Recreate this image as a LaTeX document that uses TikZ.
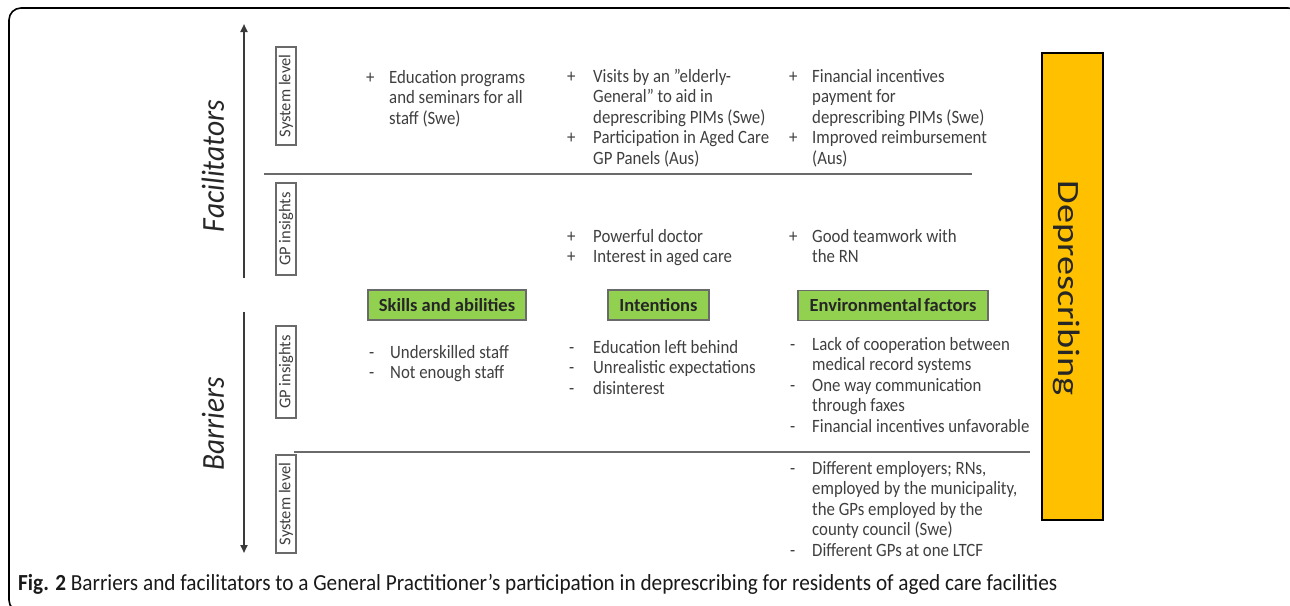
\documentclass[tikz,border=0pt]{standalone}
\usepackage{fontspec}
\setmainfont{Carlito}
\usetikzlibrary{arrows.meta}
\definecolor{txtgray}{HTML}{3F3F3F}
\definecolor{yel}{HTML}{FFC000}
\definecolor{grn}{HTML}{92D050}
\definecolor{linegray}{HTML}{6A6A6A}
\definecolor{arrgray}{HTML}{3A3A3A}
\newcommand\bodyfont{\fontsize{16.8}{20}\selectfont}
% #1 name, #2 bullet, #3 bullet x, #4 text x, #5 first baseline, #6 lines
\newcommand\bitem[6]{%
  \node[bul] (#1-b) at (#3,#5) {#2};
  \foreach \t [count=\i from 0] in {#6} {
    \node[txt] (#1-\i) at (#4,{#5+20.6*\i}) {\t};
  }%
}
\begin{document}
\begin{tikzpicture}[x=1pt,y=-1pt,
  txt/.style={anchor=base west,inner sep=0pt,font=\bodyfont,text=txtgray,yscale=1.12},
  bul/.style={anchor=base west,inner sep=0pt,font=\bodyfont,text=txtgray,yscale=1.12},
  sidebox/.style={draw=linegray,line width=1.1pt,fill=white,rotate=90,minimum height=20pt,inner sep=0pt,font=\fontsize{16.5}{17}\selectfont,text=txtgray},
  greenbox/.style={draw=linegray,line width=1.1pt,fill=grn,minimum height=30pt,inner sep=0pt,font=\fontsize{18.5}{19}\selectfont\bfseries,text=black!85},
  sep/.style={draw=linegray,line width=1.6pt},
  arrowline/.style={draw=arrgray,line width=2.2pt,-{Triangle[length=8pt,width=7pt]}},
  bigside/.style={inner sep=0pt,rotate=90,text=black!85}
]
\useasboundingbox (0,0) rectangle (1290,605);
% frame
\draw[line width=1.6pt,rounded corners=12pt] (9,8) rectangle (1300,612);

% axis arrows
\coordinate (fa0) at (244,278);
\coordinate (fa1) at (244,24);
\coordinate (ba0) at (244,312);
\coordinate (ba1) at (244,553);
\draw[arrowline] (fa0) -- (fa1);
\draw[arrowline] (ba0) -- (ba1);

\node[bigside] (fac) at (213,166) {\resizebox{132pt}{\height}{\fontsize{32}{32}\selectfont\itshape Facilitators}};
\node[bigside] (bar) at (213,424) {\resizebox{93pt}{\height}{\fontsize{32}{32}\selectfont\itshape Barriers}};

% separators
\coordinate (l1a) at (264,174);
\coordinate (l1b) at (972,174);
\coordinate (l2a) at (294,452);
\coordinate (l2b) at (1030,452);
\draw[sep] (l1a) -- (l1b);
\draw[sep] (l2a) -- (l2b);

% side boxes
\node[sidebox,minimum width=98pt] (sysF) at (286,96) {System level};
\node[sidebox,minimum width=92pt] (gpF) at (286,229) {GP insights};
\node[sidebox,minimum width=92pt] (gpB) at (286,372) {GP insights};
\node[sidebox,minimum width=98pt] (sysB) at (286,504) {System level};

% green boxes
\node[greenbox,minimum width=158pt] (skills) at (447,305) {Skills and abilities};
\node[greenbox,minimum width=101pt] (intent) at (658.5,305) {Intentions};
\node[greenbox,minimum width=190pt] (env) at (893,305.5) {Environmental\hspace{-2pt} factors};

% yellow box
\node[draw=black,line width=2.2pt,fill=yel,minimum width=61pt,minimum height=467pt,inner sep=0pt] (dep) at (1072.5,286.5) {};
\node[inner sep=0pt,rotate=-90,text=black!85] (deptext) at (1067,288) {\resizebox{215pt}{\height}{\fontsize{31}{31}\selectfont Deprescribing}};

% Facilitators, system level
\bitem{fs1}{+}{366}{389}{83}{Education programs,and seminars for all,staff (Swe)}
\bitem{fs2}{+}{567}{593}{82}{Visits by an ”elderly-,General” to aid in,deprescribing PIMs (Swe)}
\bitem{fs3}{+}{567}{593}{143.8}{Participation in Aged Care,GP Panels (Aus)}
\bitem{fs4}{+}{789}{812}{82}{Financial incentives,payment for,deprescribing PIMs (Swe)}
\bitem{fs5}{+}{789}{812}{143.8}{Improved reimbursement,(Aus)}

% Facilitators, GP insights
\bitem{fg1}{+}{567}{593}{242}{Powerful doctor}
\bitem{fg2}{+}{567}{593}{262.6}{Interest in aged care}
\bitem{fg3}{+}{789}{812}{242}{Good teamwork with,the RN}

% Barriers, GP insights
\bitem{bg1}{-}{369}{390}{358}{Underskilled staff}
\bitem{bg2}{-}{369}{390}{378.6}{Not enough staff}
\bitem{bg3}{-}{569}{593}{353}{Education left behind}
\bitem{bg4}{-}{569}{593}{373.6}{Unrealistic expectations}
\bitem{bg5}{-}{569}{593}{394.2}{disinterest}
\bitem{bg6}{-}{790}{812}{350}{Lack of cooperation between,medical record systems}
\bitem{bg7}{-}{790}{812}{391.2}{One way communication,through faxes}
\bitem{bg8}{-}{790}{812}{432.4}{Financial incentives unfavorable}

% Barriers, system level
\bitem{bs1}{-}{790}{812}{474}{{Different employers; RNs,},{employed by the municipality,},the GPs employed by the,county council (Swe)}
\bitem{bs2}{-}{790}{812}{556.4}{Different GPs at one LTCF}

% caption
\node[anchor=base west,inner sep=0pt,text=black!90] (cap) at (18,590) {\resizebox{1039pt}{\height}{\fontsize{23}{23}\selectfont\textbf{Fig. 2} Barriers and facilitators to a General Practitioner’s participation in deprescribing for residents of aged care facilities}};
\end{tikzpicture}
\end{document}
